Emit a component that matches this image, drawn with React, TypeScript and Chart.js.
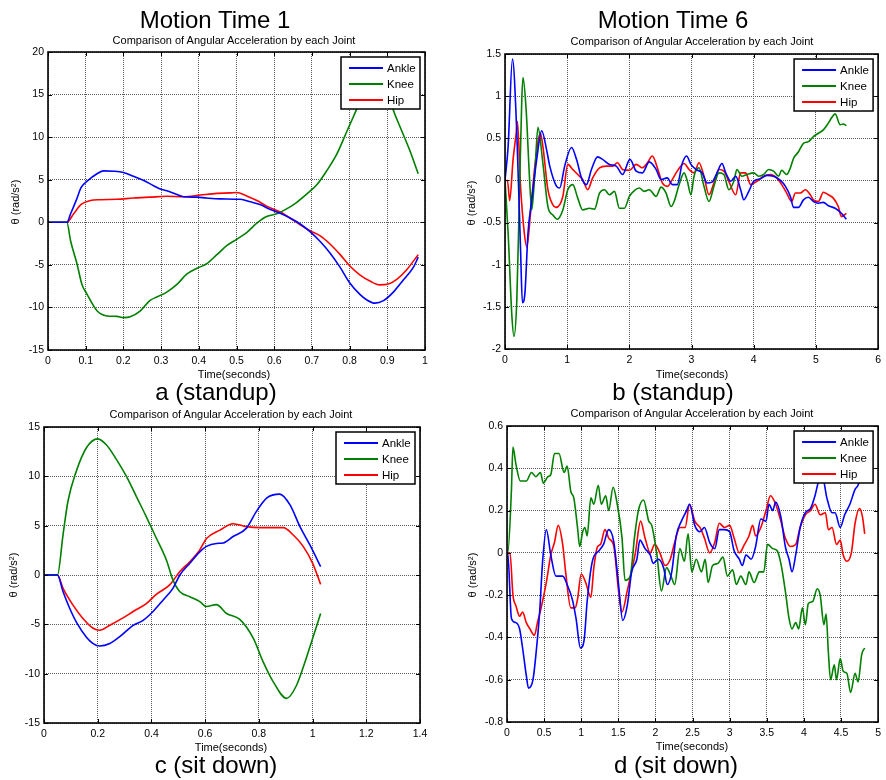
import React, { useEffect, useRef } from "react";
import { Chart, registerables } from "chart.js";

Chart.register(...registerables);

const FONT = "'Liberation Sans', Arial, Helvetica, sans-serif";

const seriesNames = ["Ankle", "Knee", "Hip"];
const seriesColors = ["#0000ff", "#008000", "#ff0000"];

// ---------- Panel a : Motion Time 1, standup ----------
const aAnkleT = [0, 0.05, 0.06, 0.075, 0.088, 0.103, 0.13, 0.148, 0.174, 0.2, 0.227, 0.254, 0.28, 0.298, 0.315, 0.342, 0.36, 0.395, 0.42, 0.457, 0.51, 0.537, 0.564, 0.59, 0.616, 0.642, 0.669, 0.695, 0.722, 0.748, 0.775, 0.8, 0.828, 0.845, 0.867, 0.89, 0.916, 0.942, 0.969, 0.982];
const aAnkle = [0, 0, 1.0, 2.6, 4.1, 4.8, 5.7, 6.04, 6.0, 5.85, 5.4, 4.9, 4.3, 3.9, 3.7, 3.25, 3.0, 2.95, 2.85, 2.75, 2.7, 2.4, 2.05, 1.5, 1.05, 0.5, -0.2, -1.1, -2.25, -3.6, -5.3, -7.1, -8.5, -9.1, -9.5, -9.2, -8.2, -6.8, -5.3, -4.1];
const aKneeT = [0, 0.05, 0.06, 0.077, 0.09, 0.103, 0.13, 0.156, 0.183, 0.2, 0.218, 0.245, 0.27, 0.29, 0.315, 0.342, 0.368, 0.395, 0.42, 0.448, 0.474, 0.5, 0.527, 0.554, 0.58, 0.607, 0.633, 0.66, 0.686, 0.713, 0.74, 0.766, 0.792, 0.81, 0.835, 0.87, 0.9, 0.916, 0.934, 0.96, 0.982];
const aKnee = [0, 0, -2.2, -4.9, -7.3, -8.4, -10.4, -11.0, -11.05, -11.2, -11.1, -10.4, -9.2, -8.75, -8.2, -7.3, -6.1, -5.4, -4.9, -3.8, -2.75, -2.0, -1.2, -0.1, 0.67, 1.0, 1.57, 2.35, 3.3, 4.4, 6.1, 8.0, 10.6, 12.4, 14.8, 16.5, 15.8, 13.2, 11.2, 8.4, 5.7];
const aHipT = [0, 0.05, 0.068, 0.088, 0.112, 0.139, 0.183, 0.227, 0.27, 0.315, 0.36, 0.404, 0.448, 0.483, 0.5, 0.527, 0.554, 0.58, 0.616, 0.642, 0.669, 0.695, 0.722, 0.748, 0.775, 0.8, 0.828, 0.854, 0.88, 0.903, 0.925, 0.951, 0.982];
const aHip = [0, 0, 1.0, 2.1, 2.55, 2.65, 2.7, 2.85, 2.95, 3.05, 3.0, 3.2, 3.4, 3.45, 3.5, 3.1, 2.55, 1.9, 1.2, 0.5, -0.3, -1.0, -1.6, -2.55, -3.8, -5.1, -6.2, -6.9, -7.35, -7.25, -6.7, -5.6, -3.8];

// ---------- Panel b : Motion Time 6, standup ----------
const bAnkleT = [0, 0.05, 0.12, 0.19, 0.25, 0.28, 0.32, 0.37, 0.43, 0.51, 0.59, 0.67, 0.72, 0.83, 0.88, 0.96, 1.07, 1.15, 1.23, 1.31, 1.39, 1.49, 1.57, 1.68, 1.79, 1.89, 2.01, 2.11, 2.21, 2.32, 2.43, 2.51, 2.61, 2.69, 2.77, 2.85, 2.92, 2.99, 3.07, 3.17, 3.25, 3.33, 3.41, 3.49, 3.55, 3.63, 3.71, 3.79, 3.84, 3.92, 4.0, 4.11, 4.21, 4.32, 4.43, 4.51, 4.59, 4.64, 4.72, 4.8, 4.88, 4.96, 5.04, 5.12, 5.2, 5.31, 5.41, 5.49];
const bAnkle = [0, 0.4, 1.44, 0.56, -0.82, -1.45, -1.34, -0.62, -0.23, 0.25, 0.59, 0.36, 0.17, -0.07, -0.09, 0.17, 0.39, 0.25, 0.03, -0.05, 0.13, 0.28, 0.25, 0.19, 0.17, 0.07, 0.25, 0.11, 0.09, 0.22, 0.13, 0.01, 0.03, -0.05, -0.05, 0.2, 0.29, 0.19, 0.13, 0.09, -0.03, -0.02, 0.09, 0.2, 0.09, -0.01, 0.05, -0.11, -0.23, -0.13, -0.01, 0.02, 0.06, 0.05, 0.0, -0.07, -0.19, -0.32, -0.32, -0.23, -0.2, -0.25, -0.27, -0.26, -0.3, -0.33, -0.39, -0.46];
const bKneeT = [0, 0.05, 0.11, 0.144, 0.19, 0.23, 0.27, 0.29, 0.34, 0.39, 0.43, 0.48, 0.53, 0.61, 0.69, 0.77, 0.84, 0.93, 1.01, 1.09, 1.17, 1.25, 1.36, 1.44, 1.52, 1.6, 1.68, 1.76, 1.84, 1.92, 2.0, 2.08, 2.16, 2.24, 2.32, 2.43, 2.51, 2.59, 2.67, 2.72, 2.8, 2.88, 2.93, 2.99, 3.04, 3.12, 3.2, 3.28, 3.36, 3.44, 3.52, 3.6, 3.68, 3.73, 3.81, 3.89, 4.0, 4.08, 4.16, 4.24, 4.32, 4.4, 4.45, 4.53, 4.59, 4.64, 4.72, 4.8, 4.88, 4.96, 5.04, 5.12, 5.2, 5.25, 5.31, 5.39, 5.44, 5.49];
const bKnee = [0, -0.62, -1.6, -1.85, -1.42, -0.23, 0.96, 1.22, 0.84, 0.09, -0.35, 0.09, 0.63, 0.2, -0.31, -0.41, -0.46, -0.35, -0.11, -0.05, -0.21, -0.35, -0.33, -0.34, -0.15, -0.11, -0.17, -0.13, -0.33, -0.33, -0.19, -0.12, -0.09, -0.13, -0.11, -0.19, -0.08, -0.15, -0.31, -0.25, -0.05, 0.09, 0.0, -0.17, 0.05, 0.15, -0.07, -0.25, -0.07, 0.09, 0.07, -0.11, -0.01, 0.13, 0.05, 0.07, 0.09, 0.05, 0.07, 0.13, 0.11, 0.05, 0.12, 0.07, 0.15, 0.26, 0.34, 0.44, 0.46, 0.52, 0.56, 0.6, 0.68, 0.74, 0.79, 0.66, 0.67, 0.65];
const bHipT = [0, 0.04, 0.075, 0.13, 0.18, 0.2, 0.25, 0.31, 0.35, 0.41, 0.48, 0.57, 0.61, 0.69, 0.77, 0.82, 0.93, 1.01, 1.09, 1.17, 1.25, 1.33, 1.41, 1.52, 1.63, 1.73, 1.81, 1.89, 2.0, 2.11, 2.21, 2.29, 2.37, 2.45, 2.53, 2.61, 2.69, 2.77, 2.88, 2.96, 3.04, 3.12, 3.2, 3.28, 3.36, 3.44, 3.52, 3.6, 3.71, 3.79, 3.87, 3.95, 4.05, 4.16, 4.27, 4.37, 4.45, 4.53, 4.61, 4.67, 4.75, 4.83, 4.91, 4.96, 5.04, 5.12, 5.2, 5.28, 5.36, 5.41, 5.49];
const bHip = [0, 0, -0.24, 0.25, 0.56, 0.7, -0.07, -0.62, -0.79, -0.39, 0.17, 0.56, 0.4, -0.11, -0.29, -0.32, -0.19, 0.19, 0.13, 0.07, 0.01, -0.11, 0.03, 0.15, 0.17, 0.17, 0.21, 0.13, 0.12, 0.19, 0.15, 0.21, 0.29, 0.15, -0.03, -0.07, 0.01, 0.11, 0.2, 0.13, 0.09, 0.21, 0.05, -0.17, -0.03, 0.13, 0.11, -0.01, -0.17, 0.09, 0.09, -0.05, -0.01, 0.05, 0.07, 0.03, -0.05, -0.15, -0.25, -0.15, -0.15, -0.11, -0.17, -0.23, -0.25, -0.14, -0.17, -0.21, -0.31, -0.43, -0.39];

// ---------- Panel c : sit down (time 1) ----------
const cAnkleT = [0, 0.05, 0.071, 0.096, 0.12, 0.158, 0.183, 0.207, 0.245, 0.282, 0.332, 0.369, 0.406, 0.443, 0.48, 0.506, 0.543, 0.58, 0.605, 0.642, 0.667, 0.704, 0.754, 0.791, 0.829, 0.878, 0.916, 0.953, 0.99, 1.03];
const cAnkle = [0, 0, -1.7, -3.4, -4.75, -6.3, -6.95, -7.2, -6.95, -6.25, -5.1, -4.6, -3.7, -2.55, -1.35, 0, 1.2, 2.35, 2.9, 3.2, 3.25, 3.9, 4.75, 6.45, 7.8, 8.2, 7.1, 4.9, 3.05, 0.85];
const cKneeT = [0, 0.05, 0.071, 0.089, 0.12, 0.158, 0.2, 0.232, 0.27, 0.307, 0.344, 0.381, 0.419, 0.456, 0.48, 0.506, 0.543, 0.58, 0.605, 0.642, 0.68, 0.729, 0.779, 0.816, 0.853, 0.903, 0.94, 0.978, 1.03];
const cKnee = [0, 0, 4.1, 7.45, 10.5, 12.9, 13.8, 13.2, 11.7, 10.0, 7.95, 5.9, 3.7, 1.5, -0.5, -1.7, -2.2, -2.7, -3.2, -3.0, -3.9, -4.5, -6.4, -8.8, -10.8, -12.5, -11.2, -8.3, -3.9];
const cHipT = [0, 0.05, 0.071, 0.108, 0.145, 0.183, 0.207, 0.245, 0.294, 0.332, 0.381, 0.419, 0.468, 0.506, 0.543, 0.58, 0.605, 0.655, 0.704, 0.754, 0.804, 0.891, 0.928, 0.965, 1.0, 1.03];
const cHip = [0, 0, -1.35, -3.05, -4.4, -5.4, -5.6, -5.1, -4.35, -3.7, -2.9, -1.95, -1.0, 0.35, 1.35, 2.55, 3.7, 4.55, 5.2, 4.9, 4.8, 4.8, 4.05, 2.9, 1.2, -0.95];

// ---------- Panel d : sit down (time 6) ----------
const dAnkleT = [0, 0.01, 0.06, 0.12, 0.17, 0.21, 0.26, 0.29, 0.35, 0.39, 0.44, 0.48, 0.53, 0.59, 0.66, 0.75, 0.81, 0.88, 0.93, 0.99, 1.04, 1.08, 1.15, 1.24, 1.3, 1.37, 1.44, 1.5, 1.56, 1.62, 1.68, 1.75, 1.79, 1.86, 1.93, 1.97, 2.04, 2.11, 2.16, 2.22, 2.28, 2.35, 2.42, 2.46, 2.53, 2.6, 2.66, 2.73, 2.8, 2.86, 2.93, 3.0, 3.06, 3.13, 3.17, 3.22, 3.29, 3.35, 3.42, 3.49, 3.53, 3.58, 3.62, 3.69, 3.75, 3.8, 3.84, 3.89, 3.95, 4.02, 4.09, 4.15, 4.2, 4.25, 4.31, 4.38, 4.42, 4.49, 4.55, 4.62, 4.69, 4.73, 4.8];
const dAnkle = [0, 0, -0.31, -0.33, -0.36, -0.45, -0.58, -0.64, -0.6, -0.48, -0.28, -0.04, 0.11, -0.01, -0.11, -0.11, -0.15, -0.22, -0.31, -0.45, -0.41, -0.23, -0.04, 0.01, 0.04, 0.11, 0.05, -0.14, -0.32, -0.25, -0.09, -0.03, 0.06, 0.02, -0.01, -0.05, -0.03, -0.07, -0.15, -0.09, 0.08, 0.15, 0.2, 0.23, 0.13, 0.1, 0.12, 0.05, 0.02, 0.11, 0.11, 0.1, 0.01, -0.03, -0.06, -0.01, -0.03, 0.03, 0.16, 0.15, 0.23, 0.2, 0.24, 0.17, 0.03, -0.03, -0.09, -0.01, 0.12, 0.19, 0.21, 0.27, 0.34, 0.36, 0.26, 0.19, 0.19, 0.12, 0.18, 0.23, 0.3, 0.32, 0.4];
const dKneeT = [0, 0.01, 0.06, 0.08, 0.12, 0.18, 0.26, 0.33, 0.39, 0.45, 0.49, 0.55, 0.59, 0.64, 0.7, 0.77, 0.81, 0.86, 0.9, 0.95, 0.98, 1.02, 1.05, 1.08, 1.13, 1.17, 1.23, 1.27, 1.33, 1.37, 1.43, 1.48, 1.55, 1.59, 1.66, 1.72, 1.77, 1.84, 1.91, 1.95, 2.02, 2.08, 2.15, 2.21, 2.26, 2.33, 2.39, 2.44, 2.49, 2.55, 2.62, 2.67, 2.71, 2.77, 2.84, 2.91, 2.97, 3.04, 3.09, 3.15, 3.22, 3.26, 3.33, 3.4, 3.46, 3.51, 3.58, 3.64, 3.69, 3.75, 3.8, 3.84, 3.89, 3.93, 3.98, 4.02, 4.06, 4.12, 4.18, 4.22, 4.27, 4.3, 4.33, 4.36, 4.41, 4.44, 4.49, 4.53, 4.58, 4.63, 4.69, 4.73, 4.78, 4.82];
const dKnee = [0, 0, 0.3, 0.5, 0.42, 0.34, 0.34, 0.38, 0.36, 0.38, 0.33, 0.36, 0.37, 0.47, 0.47, 0.38, 0.41, 0.29, 0.26, 0.12, 0.03, 0.1, 0.12, 0.08, 0.26, 0.23, 0.32, 0.23, 0.27, 0.2, 0.31, 0.24, 0.07, -0.13, -0.11, 0.08, 0.2, 0.25, 0.15, 0.13, -0.01, -0.18, -0.07, -0.11, -0.15, 0.02, -0.04, 0.09, -0.09, -0.03, -0.09, -0.03, -0.14, -0.06, -0.05, -0.02, -0.11, -0.08, -0.15, -0.11, -0.15, -0.09, -0.14, -0.09, -0.09, 0.04, 0.02, 0.01, -0.05, -0.18, -0.31, -0.36, -0.33, -0.36, -0.26, -0.34, -0.24, -0.23, -0.17, -0.2, -0.34, -0.29, -0.47, -0.6, -0.53, -0.6, -0.5, -0.56, -0.57, -0.66, -0.57, -0.61, -0.48, -0.45];
const dHipT = [0, 0.04, 0.08, 0.12, 0.17, 0.21, 0.26, 0.31, 0.37, 0.41, 0.46, 0.53, 0.59, 0.64, 0.69, 0.75, 0.79, 0.86, 0.92, 0.95, 1.0, 1.06, 1.13, 1.17, 1.22, 1.26, 1.32, 1.37, 1.44, 1.5, 1.55, 1.62, 1.67, 1.73, 1.8, 1.86, 1.93, 1.99, 2.06, 2.13, 2.2, 2.26, 2.33, 2.4, 2.46, 2.53, 2.6, 2.66, 2.73, 2.8, 2.86, 2.93, 3.0, 3.06, 3.13, 3.2, 3.26, 3.31, 3.35, 3.42, 3.49, 3.55, 3.62, 3.69, 3.75, 3.82, 3.89, 3.95, 4.02, 4.09, 4.15, 4.22, 4.29, 4.33, 4.38, 4.44, 4.49, 4.53, 4.58, 4.64, 4.69, 4.75, 4.79, 4.82];
const dHip = [0, 0, -0.2, -0.25, -0.3, -0.28, -0.33, -0.36, -0.39, -0.33, -0.26, -0.14, -0.01, 0.05, 0.13, 0.04, -0.09, -0.26, -0.26, -0.22, -0.1, -0.14, -0.21, -0.07, 0.03, 0.04, 0.11, 0.07, 0.03, -0.17, -0.28, -0.18, -0.1, 0.0, 0.15, 0.07, 0.0, 0.04, 0.0, -0.06, -0.03, 0.05, 0.12, 0.12, 0.23, 0.15, 0.12, 0.07, 0.0, 0.05, 0.14, 0.12, 0.13, 0.07, 0.0, 0.04, 0.08, 0.13, 0.08, 0.12, 0.2, 0.27, 0.23, 0.15, 0.07, 0.03, 0.04, 0.12, 0.18, 0.2, 0.23, 0.18, 0.19, 0.11, 0.12, 0.04, 0.06, -0.01, -0.04, 0.0, 0.14, 0.21, 0.17, 0.09];

// ---------- layout ----------
type Area = { l: number; r: number; t: number; b: number };
type PanelCfg = {
  left: number; top: number; width: number; height: number; area: Area;
  xMin: number; xMax: number; xStep: number;
  yMin: number; yMax: number; yStep: number;
  series: number[][][];
};

const PANELS: PanelCfg[] = [
  { left: 0, top: 0, width: 443, height: 395, area: { l: 48, r: 425, t: 52, b: 350 },
    xMin: 0, xMax: 1, xStep: 0.1, yMin: -15, yMax: 20, yStep: 5,
    series: [[aAnkleT, aAnkle], [aKneeT, aKnee], [aHipT, aHip]] },
  { left: 443, top: 0, width: 443, height: 395, area: { l: 62, r: 437, t: 54, b: 349 },
    xMin: 0, xMax: 6, xStep: 1, yMin: -2, yMax: 1.5, yStep: 0.5,
    series: [[bAnkleT, bAnkle], [bKneeT, bKnee], [bHipT, bHip]] },
  { left: 0, top: 395, width: 443, height: 385, area: { l: 44, r: 420, t: 32, b: 328 },
    xMin: 0, xMax: 1.4, xStep: 0.2, yMin: -15, yMax: 15, yStep: 5,
    series: [[cAnkleT, cAnkle], [cKneeT, cKnee], [cHipT, cHip]] },
  { left: 443, top: 395, width: 443, height: 385, area: { l: 64, r: 438, t: 31, b: 327 },
    xMin: 0, xMax: 5, xStep: 0.5, yMin: -0.8, yMax: 0.6, yStep: 0.2,
    series: [[dAnkleT, dAnkle], [dKneeT, dKnee], [dHipT, dHip]] },
];

const fmt = (v: any) => String(Math.round(Number(v) * 1000) / 1000);

const framePlugin = {
  id: "matlabFrame",
  afterDatasetsDraw(chart: any) {
    const { ctx, chartArea, scales } = chart;
    const { left, top, right, bottom } = chartArea;
    const x = scales.x;
    const y = scales.y;
    ctx.save();
    ctx.strokeStyle = "#000";
    ctx.lineWidth = 1;
    ctx.beginPath();
    x.ticks.forEach((t: any) => {
      const px = Math.round(x.getPixelForValue(t.value)) + 0.5;
      ctx.moveTo(px, bottom); ctx.lineTo(px, bottom - 4);
      ctx.moveTo(px, top); ctx.lineTo(px, top + 4);
    });
    y.ticks.forEach((t: any) => {
      const py = Math.round(y.getPixelForValue(t.value)) + 0.5;
      ctx.moveTo(left, py); ctx.lineTo(left + 4, py);
      ctx.moveTo(right, py); ctx.lineTo(right - 4, py);
    });
    ctx.stroke();
    ctx.lineWidth = 1.6;
    ctx.strokeRect(left, top, right - left, bottom - top);

    // legend box (MATLAB style, inside top-right)
    const w = 79, h = 52;
    const lx = right - 5 - w;
    const ly = top + 5;
    ctx.fillStyle = "#fff";
    ctx.fillRect(lx, ly, w, h);
    ctx.lineWidth = 1.5;
    ctx.strokeRect(lx, ly, w, h);
    ctx.font = `11.5px ${FONT}`;
    ctx.textBaseline = "middle";
    ctx.textAlign = "left";
    chart.data.datasets.forEach((ds: any, i: number) => {
      const ry = ly + 11 + i * 16;
      ctx.strokeStyle = ds.borderColor;
      ctx.lineWidth = 1.8;
      ctx.beginPath();
      ctx.moveTo(lx + 8, ry); ctx.lineTo(lx + 42, ry);
      ctx.stroke();
      ctx.fillStyle = "#000";
      ctx.fillText(ds.label, lx + 46, ry + 0.5);
    });
    ctx.restore();
  },
};

function Panel({ cfg }: { cfg: PanelCfg }) {
  const ref = useRef<HTMLCanvasElement | null>(null);
  useEffect(() => {
    const a = cfg.area;
    const tickFont = { family: FONT, size: 10.5 };
    const chart = new Chart(ref.current as HTMLCanvasElement, {
      type: "line",
      data: {
        datasets: cfg.series.map((s, i) => ({
          label: seriesNames[i],
          data: s[0].map((t, j) => ({ x: t, y: s[1][j] })),
          borderColor: seriesColors[i],
          backgroundColor: seriesColors[i],
          borderWidth: 1.6,
          pointRadius: 0,
          fill: false,
          cubicInterpolationMode: "monotone",
        })),
      },
      options: {
        responsive: false,
        animation: false,
        devicePixelRatio: 1,
        events: [],
        layout: { padding: { left: 0, top: a.t, right: cfg.width - a.r, bottom: 0 } },
        plugins: { legend: { display: false }, title: { display: false }, tooltip: { enabled: false } },
        scales: {
          x: {
            type: "linear",
            min: cfg.xMin, max: cfg.xMax,
            ticks: { stepSize: cfg.xStep, autoSkip: false, maxRotation: 0, padding: 5, color: "#000", font: tickFont, callback: fmt },
            grid: { color: "#5a5a5a", lineWidth: 1, drawTicks: false },
            border: { display: false, dash: [1, 1] },
            afterFit: (s: any) => { s.height = cfg.height - a.b; },
          },
          y: {
            type: "linear",
            min: cfg.yMin, max: cfg.yMax,
            ticks: { stepSize: cfg.yStep, autoSkip: false, padding: 4, color: "#000", font: tickFont, callback: fmt },
            grid: { color: "#5a5a5a", lineWidth: 1, drawTicks: false },
            border: { display: false, dash: [1, 1] },
            afterFit: (s: any) => { s.width = a.l; },
          },
        },
      } as any,
      plugins: [framePlugin],
    });
    return () => chart.destroy();
  }, [cfg]);
  return (
    <canvas
      ref={ref}
      width={cfg.width}
      height={cfg.height}
      style={{ position: "absolute", left: cfg.left, top: cfg.top, width: cfg.width, height: cfg.height }}
    />
  );
}

function Label({ x, y, size, children, rotate }: { x: number; y: number; size: number; children: any; rotate?: boolean }) {
  return (
    <div
      style={{
        position: "absolute",
        left: x,
        top: y,
        transform: `translate(-50%, -50%)${rotate ? " rotate(-90deg)" : ""}`,
        fontSize: size,
        lineHeight: `${size}px`,
        whiteSpace: "nowrap",
        color: "#000",
        fontFamily: FONT,
      }}
    >
      {children}
    </div>
  );
}

const subtitle = "Comparison of Angular Acceleration by each Joint";
const yTitle = (
  <span>
    θ (rad/s<sup style={{ fontSize: 7, verticalAlign: "top", lineHeight: "7px" }}>2</sup>)
  </span>
);

export default function App() {
  return (
    <div style={{ position: "absolute", left: 0, top: 0, width: 886, height: 780, background: "#fff", overflow: "hidden" }}>
      {PANELS.map((p, i) => (
        <Panel key={i} cfg={p} />
      ))}
      <Label x={215} y={20} size={24}>Motion Time 1</Label>
      <Label x={673} y={20} size={24}>Motion Time 6</Label>
      <Label x={234} y={40} size={11}>{subtitle}</Label>
      <Label x={692} y={41} size={11}>{subtitle}</Label>
      <Label x={231} y={414} size={11}>{subtitle}</Label>
      <Label x={692} y={413} size={11}>{subtitle}</Label>
      <Label x={234} y={374} size={11}>Time(seconds)</Label>
      <Label x={692} y={374} size={11}>Time(seconds)</Label>
      <Label x={231} y={747} size={11}>Time(seconds)</Label>
      <Label x={692} y={746} size={11}>Time(seconds)</Label>
      <Label x={216} y={392} size={24}>a (standup)</Label>
      <Label x={673} y={392} size={24}>b (standup)</Label>
      <Label x={216} y={765} size={24}>c (sit down)</Label>
      <Label x={676} y={765} size={24}>d (sit down)</Label>
      <Label x={15} y={202} size={11} rotate>{yTitle}</Label>
      <Label x={471} y={203} size={11} rotate>{yTitle}</Label>
      <Label x={13} y={575} size={11} rotate>{yTitle}</Label>
      <Label x={472} y={575} size={11} rotate>{yTitle}</Label>
    </div>
  );
}
